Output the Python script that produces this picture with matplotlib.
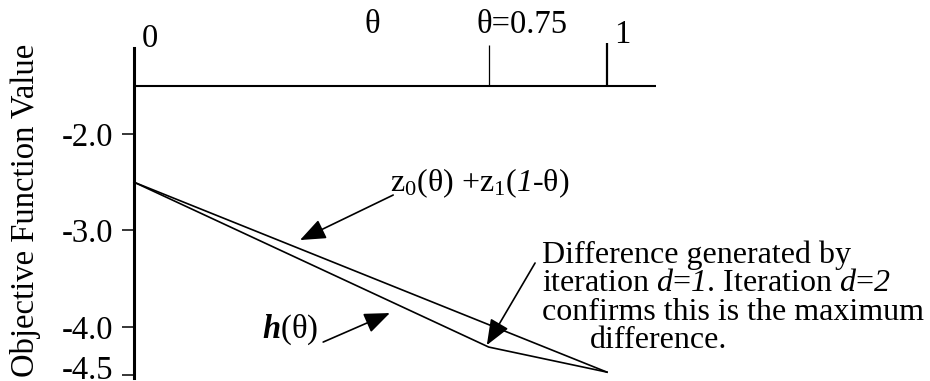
import matplotlib
matplotlib.use("Agg")
import matplotlib.pyplot as plt
from matplotlib.transforms import ScaledTranslation

plt.rcParams['font.family'] = 'Liberation Serif'
plt.rcParams['mathtext.fontset'] = 'custom'
plt.rcParams['mathtext.rm'] = 'Liberation Serif'
plt.rcParams['mathtext.it'] = 'Liberation Serif:italic'
plt.rcParams['mathtext.sf'] = 'Liberation Serif:italic'
plt.rcParams['mathtext.bf'] = 'Liberation Serif:italic:bold'
plt.rcParams['axes.unicode_minus'] = False

# objective function values along theta
theta_chord = [0.0, 1.0]
chord_vals = [-2.5, -4.47]          # z0(θ) + z1(1-θ)
theta_h = [0.0, 0.75, 1.0]
h_vals = [-2.5, -4.21, -4.47]       # h(θ)

y_ticks = [-2.0, -3.0, -4.0, -4.5]
y_tick_labels = ['-2.0', '-3.0', '-4.0', '-4.5']
theta_ticks = [0.75, 1.0]
theta_axis_level = -1.5

FS = 23.5
NOTE_FS = 23

fig = plt.figure(figsize=(9.3, 3.81), dpi=100)
ax = fig.add_axes([0, 0, 1, 1])
ax.set_xlim(-0.2833, 1.683)
ax.set_ylim(-4.562, -0.610)

for s in ['top', 'right', 'bottom']:
    ax.spines[s].set_visible(False)
ax.spines['left'].set_position(('data', 0))
ax.spines['left'].set_bounds(-4.531, -1.108)
ax.spines['left'].set_linewidth(2.2)
ax.set_xticks([])
ax.set_yticks(y_ticks)
ax.set_yticklabels(y_tick_labels)
ax.tick_params(axis='y', length=8.6, width=1.1, pad=6.5, labelsize=FS)
# bottom label sits a little above its tick
lbl = ax.get_yticklabels()[-1]
lbl.set_transform(lbl.get_transform() + ScaledTranslation(0, 5.5 / 72, fig.dpi_scale_trans))

# theta axis along the top
ax.plot([0, 1.104], [theta_axis_level, theta_axis_level], color='black', lw=1.5,
        solid_capstyle='butt')
ax.vlines(theta_ticks[0], theta_axis_level, -1.077, color='black', lw=0.9)
ax.vlines(theta_ticks[1], theta_axis_level, -1.056, color='black', lw=1.6)

ax.text(0.0328, -1.0975, '0', fontsize=FS, ha='center', va='baseline')
ax.text(0.503, -0.952, 'θ', fontsize=FS, ha='center', va='baseline')
ax.text(0.820, -0.952, 'θ=0.75', fontsize=FS, ha='center', va='baseline')
ax.text(1.032, -1.056, '1', fontsize=FS, ha='center', va='baseline')

# curves
ax.plot(theta_chord, chord_vals, color='black', lw=1.2)
ax.plot(theta_h, h_vals, color='black', lw=1.2)

ax.text(-0.2304, -2.788, 'Objective Function Value', fontsize=FS, rotation=90,
        ha='center', va='center')

arrow = dict(arrowstyle='-|>,head_length=0.75,head_width=0.3', color='black',
             lw=1.2, mutation_scale=21, shrinkA=0, shrinkB=0)

ax.annotate('', xy=(0.351, -3.10), xytext=(0.548, -2.633), arrowprops=arrow)
ax.text(0.541, -2.591, r'$\mathrm{z}_0$(θ) +$\mathrm{z}_1$($\mathsf{1}$-θ)',
        fontsize=NOTE_FS, ha='left', va='baseline')

ax.annotate('', xy=(0.541, -3.857), xytext=(0.40, -4.158), arrowprops=arrow)
ax.text(0.271, -4.116, r'$\mathbf{h}$(θ)', fontsize=FS, ha='left', va='baseline')

ax.annotate('', xy=(0.746, -4.19), xytext=(0.848, -3.338), arrowprops=arrow)
note_x = 0.863
ax.text(note_x, -3.338, 'Difference generated by', fontsize=NOTE_FS, va='baseline')
ax.text(note_x, -3.633,
        r'iteration $\mathsf{d}$=$\mathsf{1}$. Iteration $\mathsf{d}$=$\mathsf{2}$',
        fontsize=NOTE_FS, va='baseline')
ax.text(note_x, -3.929, 'confirms this is the maximum', fontsize=NOTE_FS, va='baseline')
ax.text(0.964, -4.224, 'difference.', fontsize=NOTE_FS, va='baseline')

fig.savefig('out.png', dpi=100)
